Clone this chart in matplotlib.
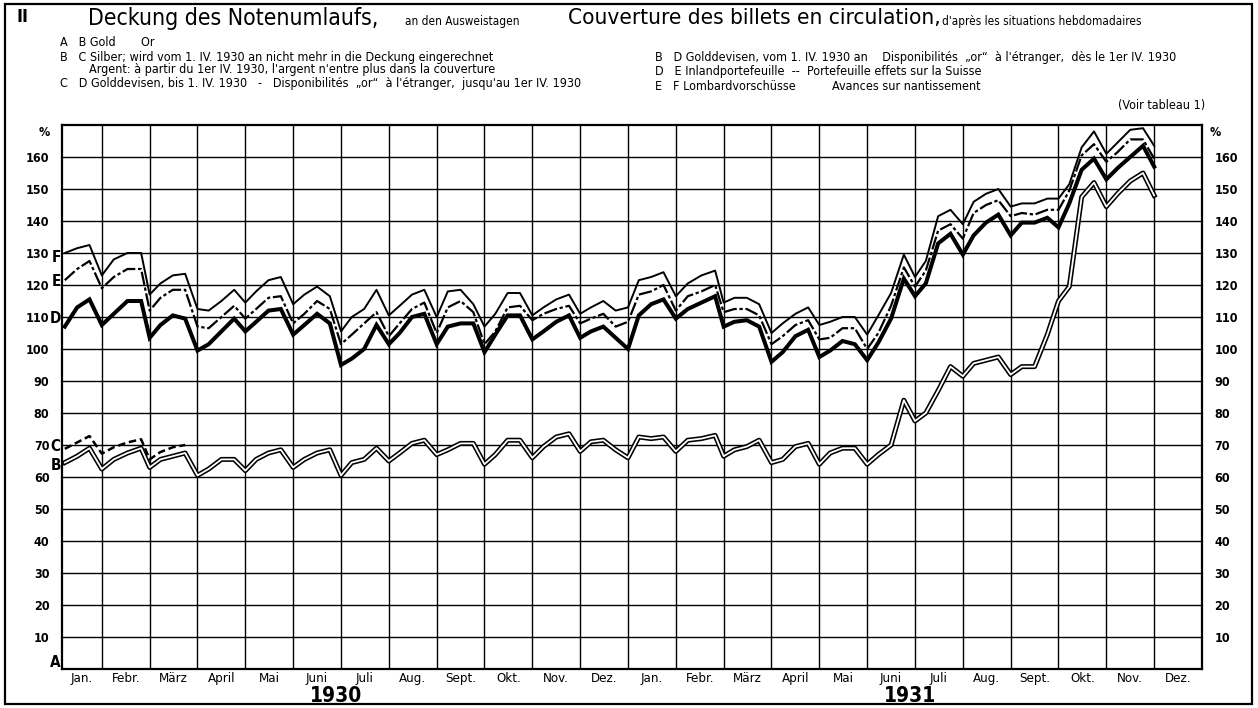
import calendar
import numpy as np
import matplotlib
matplotlib.use("Agg")
import matplotlib.pyplot as plt
from matplotlib import font_manager as fm
from matplotlib.patches import Rectangle

# ---------------- data (percent of note circulation, weekly statements) -------------
years = [1930] * 12 + [1931] * 11
month_nums = list(range(1, 13)) + list(range(1, 12))
report_days = [7, 15, 23, 0]          # 0 = last day of month

# F: total incl. Lombard advances
F_total = [130, 131.5, 132.5, 123, 128, 130, 130, 117, 120.5, 123, 123.5, 112.5,
           112, 115, 118.5, 114.5, 118, 121.5, 122.5, 114, 117, 119.5, 116.5, 105.5,
           110, 112.5, 118.5, 110.5, 113.5, 117, 118.5, 110, 118, 118.5, 114, 107,
           111, 117.5, 117.5, 110.5, 113, 115.5, 117, 111, 113, 115, 112, 113,
           121.5, 122.5, 124, 116.5, 120.5, 123, 124.5, 114.5, 116, 116, 114, 105,
           108, 111, 113, 107.5, 108.5, 110, 110, 104.5, 110.5, 117.5, 129.5, 122.5,
           127.5, 141.5, 143.5, 139, 146, 148.5, 150, 144.5, 145.5, 145.5, 147, 147,
           151.5, 163, 168, 161, 164.5, 168.5, 169, 163.5]
# E: incl. domestic bill portfolio
E_portf = [121.5, 125, 127.5, 119, 122.5, 125, 125, 112, 116, 118.5, 118.5, 107,
           106.5, 110, 113.5, 109.5, 112.5, 116, 116.5, 108, 111, 115, 112.5, 101.5,
           104.5, 108, 111.5, 104, 108, 112.5, 114.5, 105, 113, 115, 111.5, 101.5,
           105.5, 113, 113.5, 109, 111, 112.5, 113.5, 108, 109.5, 111, 107, 108.5,
           117, 118, 120, 112, 116.5, 118, 120, 111.5, 112.5, 112.5, 110.5, 101.5,
           104, 107.5, 109, 103, 103.5, 106.5, 106.5, 100, 105, 113.5, 125.5, 119.5,
           124.5, 137, 139, 134.5, 142.5, 145, 146.5, 141.5, 142.5, 142, 143.5, 143.5,
           149.5, 160.5, 164, 158.5, 161.5, 165.5, 165.5, 159.5]
# D: gold + (silver) + gold exchange
D_devisen = [107, 113, 115.5, 107.5, 111, 115, 115, 103.5, 107.5, 110.5, 109.5, 99.5,
             101.5, 105.5, 109.5, 105.5, 108.5, 112, 112.5, 104.5, 107.5, 111, 108, 95,
             97, 100, 107.5, 101.5, 105, 110, 111, 101.5, 107, 108, 108, 99,
             104.5, 110.5, 110.5, 103, 105.5, 108.5, 110.5, 103.5, 105.5, 107, 103.5, 100,
             110.5, 114, 115.5, 109.5, 112.5, 114.5, 116.5, 107, 108.5, 109, 107, 96,
             99, 104, 106, 97.5, 99.5, 102.5, 101.5, 96.5, 102, 109.5, 122, 116.5,
             120.5, 133, 136, 129.5, 135.5, 139.5, 142, 135.5, 139.5, 139.5, 141, 138,
             145.5, 156, 159.5, 153, 156.5, 160, 163.5, 157]
# B: gold
B_gold = [64.5, 66.5, 69, 62.5, 65.5, 67.5, 69, 63, 65.5, 66.5, 67.5, 60.5,
          62.5, 65.5, 65.5, 62, 65.5, 67.5, 68.5, 63, 65.5, 67.5, 68.5, 60.5,
          64.5, 65.5, 69, 65, 67.5, 70.5, 71.5, 67, 68.5, 70.5, 70.5, 64,
          67, 71.5, 71.5, 66, 69.5, 72.5, 73.5, 68, 71, 71.5, 68.5, 66,
          72.5, 72, 72.5, 68, 71.5, 72, 73, 66.5, 68.5, 69.5, 71.5, 64.5,
          65.5, 69.5, 70.5, 64, 67.5, 69, 69, 64, 67, 70, 84, 77.5,
          80, 87, 94.5, 91.5, 95.5, 96.5, 97.5, 92, 94.5, 94.5, 104.5, 115,
          119.5, 147.5, 152, 144.5, 148.5, 152.5, 155, 148]
# C: gold + silver (until 1 IV 1930)
C_silver = [68.8, 70.8, 72.8, 67.3, 69.3, 70.8, 71.8, 65.5, 67.8, 69.3, 70]

month_labels = ["Jan.", "Febr.", "März", "April", "Mai", "Juni", "Juli", "Aug.",
                "Sept.", "Okt.", "Nov.", "Dez."]
year_labels = ["1930", "1931"]
yticks = list(range(10, 170, 10))

# ---------------- font -------------
avail = {f.name for f in fm.fontManager.ttflist}
FONT = "Liberation Sans Narrow" if "Liberation Sans Narrow" in avail else "DejaVu Sans"
STRETCH = "normal" if FONT == "Liberation Sans Narrow" else "condensed"
plt.rcParams["font.family"] = [FONT, "DejaVu Sans"]
plt.rcParams["font.stretch"] = STRETCH

# ---------------- x positions (month units, 0 = 1 Jan 1930) -------------
xs = []
for k, (yy, mm) in enumerate(zip(years, month_nums)):
    nd = calendar.monthrange(yy, mm)[1]
    for d in report_days:
        dd = nd if d == 0 else d
        xs.append(k + dd / nd)
xs = np.array(xs)

W, H = 1258, 708
fig = plt.figure(figsize=(W / 100, H / 100), dpi=100)
fig.patch.set_facecolor("white")

def fx(x):
    return x / W

def fy(y):
    return 1 - y / H

ax = fig.add_axes([fx(62), fy(669), fx(1202) - fx(62), fy(125) - fy(669)])
ax.set_xlim(8 / 47.83, 24)
ax.set_ylim(0, 170)

# grid
for v in yticks:
    ax.axhline(v, color="black", lw=1.0, zorder=1)
for m in range(1, 24):
    ax.axvline(m, color="black", lw=1.0, zorder=1)
for s in ax.spines.values():
    s.set_linewidth(1.6)
ax.set_xticks([])
ax.set_yticks(yticks)
ax.tick_params(axis="y", length=0, labelsize=9, pad=9, left=True, right=True,
               labelleft=True, labelright=True)
for lab in ax.get_yticklabels():
    lab.set_fontweight("bold")

# series
ax.plot(xs, F_total, color="black", lw=1.4, zorder=3)
ax.plot(xs, E_portf, color="black", lw=1.6, ls=(0, (6, 1.2, 1.5, 1.2)), zorder=3)
ax.plot(xs, D_devisen, color="black", lw=2.9, zorder=4, solid_joinstyle="miter")
ax.plot(xs[:len(C_silver)], C_silver, color="black", lw=1.8, ls=(0, (3, 1.5)), zorder=3)
ax.plot(xs, B_gold, color="black", lw=3.6, zorder=4)
ax.plot(xs, B_gold, color="white", lw=1.3, zorder=5)

# % signs
yt = ax.get_yaxis_transform()
ax.text(-0.0105, 167.5, "%", transform=yt, ha="right", va="center",
        fontsize=9, fontweight="bold")
ax.text(1.007, 167.5, "%", transform=yt, ha="left", va="center",
        fontsize=9, fontweight="bold")

# line letters
for letter, val in [("F", 128.5), ("E", 121), ("D", 109.5), ("C", 69.5), ("B", 63.5), ("A", 2)]:
    ax.text(-0.001, val, letter, transform=yt, ha="right",
            va="center", fontsize=11, fontweight="bold")

# month labels
xt = ax.get_xaxis_transform()
for k in range(24):
    lo = max(k, ax.get_xlim()[0])
    ax.text((lo + k + 1) / 2, -0.006, month_labels[k % 12], transform=xt, ha="center",
            va="top", fontsize=9.5)
for i, yl in enumerate(year_labels):
    ax.text(12 * i + 5.9, -0.0495, yl, transform=xt, ha="center", va="center",
            fontsize=15, fontweight="bold")

# ---------------- header -------------
fig.text(fx(17), fy(17), "II", fontsize=13, fontweight="bold", va="center", ha="left")
fig.text(fx(88), fy(18), "Deckung des Notenumlaufs,", fontsize=16.5, va="center", ha="left")
fig.text(fx(405), fy(21), "an den Ausweistagen", fontsize=8.5, va="center", ha="left")
fig.text(fx(568), fy(18), "Couverture des billets en circulation,", fontsize=16.2,
         va="center", ha="left")
fig.text(fx(942), fy(21), "d'après les situations hebdomadaires", fontsize=8.5,
         va="center", ha="left")

leg_fs = 9
fig.text(fx(60), fy(42), "A   B Gold       Or", fontsize=leg_fs, va="center")
fig.text(fx(60), fy(57), "B   C Silber; wird vom 1. IV. 1930 an nicht mehr in die Deckung eingerechnet",
         fontsize=leg_fs, va="center")
fig.text(fx(89), fy(70), "Argent: à partir du 1er IV. 1930, l'argent n'entre plus dans la couverture",
         fontsize=leg_fs, va="center")
fig.text(fx(60), fy(84), "C   D Golddevisen, bis 1. IV. 1930   -   Disponibilités  „or“  à l'étranger,  jusqu'au 1er IV. 1930",
         fontsize=leg_fs, va="center")
fig.text(fx(655), fy(57), "B   D Golddevisen, vom 1. IV. 1930 an    Disponibilités  „or“  à l'étranger,  dès le 1er IV. 1930",
         fontsize=leg_fs, va="center")
fig.text(fx(655), fy(72), "D   E Inlandportefeuille  --  Portefeuille effets sur la Suisse",
         fontsize=leg_fs, va="center")
fig.text(fx(655), fy(87), "E   F Lombardvorschüsse          Avances sur nantissement",
         fontsize=leg_fs, va="center")
fig.text(fx(1205), fy(106), "(Voir tableau 1)", fontsize=leg_fs, va="center", ha="right")

# outer frame
fig.add_artist(Rectangle((fx(5), fy(704)), fx(1252) - fx(5), fy(4) - fy(704),
                         transform=fig.transFigure, fill=False, lw=1.6, color="black"))

fig.savefig("out.png", dpi=100, facecolor="white")
